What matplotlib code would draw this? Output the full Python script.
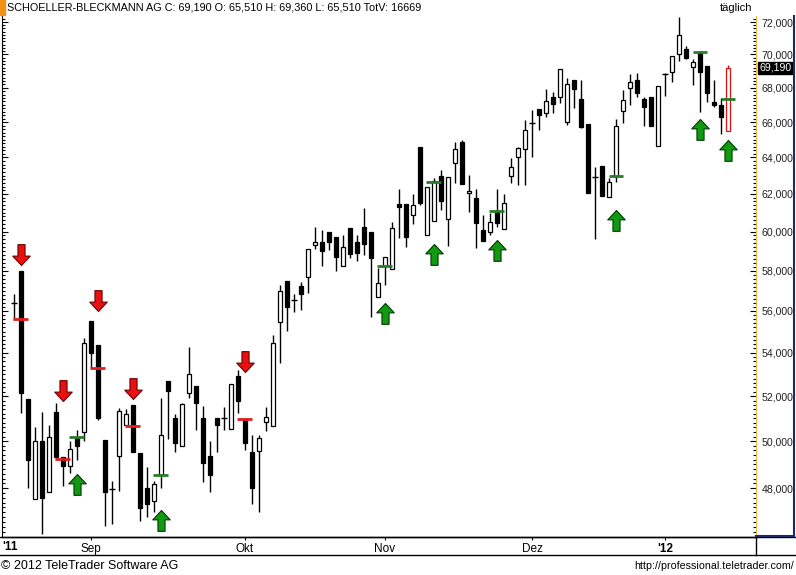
import numpy as np
import matplotlib.pyplot as plt
from matplotlib.path import Path
from matplotlib.lines import Line2D
from matplotlib.patches import Rectangle
from matplotlib.ticker import FixedLocator, NullFormatter

plt.rcParams['font.family'] = ['Liberation Sans', 'DejaVu Sans']

W, H = 796, 575

# daily candles, 17 Aug 2011 .. 13 Jan 2012 (price in EUR)
opens = [56.37, 57.97, 51.89, 47.53, 50.00, 47.82, 51.28, 49.32, 48.95, 50.17,
         50.41, 55.50, 54.36, 50.07, 47.98, 49.38, 50.69, 51.59, 49.48, 48.00,
         47.46, 48.55, 52.67, 51.00, 49.81, 52.15, 52.48, 51.00, 49.35, 51.00,
         51.00, 50.51, 52.91, 50.98, 49.52, 49.57, 50.82, 50.67, 55.47, 57.47,
         56.53, 57.22, 57.69, 59.28, 59.45, 59.99, 59.71, 58.24, 60.17, 59.45,
         60.22, 59.96, 56.69, 58.23, 58.07, 61.45, 61.45, 60.85, 64.58, 59.80,
         60.57, 62.97, 60.64, 63.67, 64.86, 62.03, 61.76, 60.08, 59.99, 61.08,
         60.16, 62.99, 64.00, 64.45, 65.96, 66.73, 66.50, 67.43, 67.47, 65.98,
         68.46, 67.32, 65.88, 62.93, 63.53, 61.81, 62.99, 66.65, 67.96, 68.46,
         67.33, 67.43, 64.65, 68.81, 68.92, 70.00, 70.31, 69.22, 70.16, 69.30,
         67.14, 66.98, 65.51]
highs = [56.82, 57.97, 51.89, 50.60, 51.29, 50.73, 51.69, 49.32, 50.00, 50.48,
         54.70, 55.50, 54.36, 50.07, 48.29, 51.47, 51.44, 51.59, 49.48, 48.88,
         48.30, 51.91, 52.67, 51.20, 51.68, 54.26, 52.48, 51.55, 50.00, 51.00,
         51.49, 52.53, 53.19, 50.98, 50.26, 50.26, 51.51, 54.83, 57.27, 57.47,
         56.81, 57.43, 59.08, 60.25, 60.11, 59.99, 59.71, 59.80, 60.17, 59.80,
         61.22, 59.96, 58.11, 58.70, 60.51, 62.26, 61.45, 61.99, 64.58, 62.35,
         62.86, 63.30, 62.90, 64.84, 64.97, 63.01, 62.25, 60.87, 60.97, 62.25,
         61.97, 63.95, 64.60, 66.11, 66.69, 66.73, 67.90, 67.74, 69.12, 68.57,
         68.46, 68.46, 65.88, 63.45, 63.53, 62.84, 66.17, 67.86, 68.81, 68.89,
         67.45, 67.43, 68.13, 68.86, 69.92, 72.33, 70.51, 69.72, 70.16, 69.30,
         68.46, 67.38, 69.36]
lows = [55.58, 51.25, 48.02, 47.53, 46.11, 47.82, 49.20, 48.09, 48.64, 49.18,
        50.01, 53.28, 50.95, 46.45, 46.52, 47.88, 50.69, 49.54, 46.64, 46.79,
        47.02, 48.01, 50.09, 49.54, 49.81, 51.92, 50.48, 48.26, 47.84, 49.54,
        50.48, 50.51, 51.22, 49.61, 47.36, 47.02, 50.45, 50.67, 53.54, 55.04,
        55.95, 56.04, 56.89, 59.08, 58.23, 59.03, 57.99, 58.24, 58.63, 58.49,
        58.77, 55.71, 56.69, 57.27, 58.07, 59.65, 59.18, 60.39, 61.40, 59.80,
        60.57, 61.13, 59.25, 62.57, 62.53, 61.04, 59.17, 59.52, 59.82, 60.22,
        60.16, 62.57, 62.48, 62.48, 64.00, 65.54, 66.30, 66.50, 67.08, 65.83,
        66.79, 65.64, 62.06, 59.59, 61.88, 61.81, 62.66, 65.96, 66.98, 67.47,
        65.79, 65.79, 64.65, 67.53, 68.32, 69.62, 69.70, 68.16, 66.59, 67.18,
        66.88, 65.29, 65.51]
closes = [56.37, 52.15, 49.18, 50.01, 47.59, 50.19, 49.32, 48.94, 49.68, 49.81,
          54.48, 53.99, 51.00, 47.84, 47.98, 51.35, 51.19, 49.54, 47.16, 47.32,
          48.18, 50.25, 52.24, 49.94, 51.64, 53.03, 51.67, 49.08, 48.55, 50.70,
          51.00, 52.53, 51.78, 49.94, 48.01, 50.12, 51.07, 54.48, 56.97, 56.20,
          56.53, 56.82, 59.08, 59.45, 59.01, 59.47, 58.70, 59.18, 58.84, 58.87,
          59.37, 58.62, 57.36, 58.70, 60.17, 61.28, 59.73, 61.38, 61.49, 62.35,
          62.71, 61.63, 62.90, 64.47, 62.53, 62.15, 60.46, 59.52, 60.48, 60.46,
          61.49, 63.45, 64.51, 65.54, 65.96, 66.38, 67.22, 67.02, 69.12, 68.22,
          67.90, 65.73, 62.06, 62.93, 61.88, 62.62, 65.77, 67.28, 68.34, 67.70,
          66.88, 65.79, 68.13, 68.81, 69.92, 71.19, 69.80, 69.54, 68.95, 67.70,
          66.98, 66.27, 69.19]

month_pos = [11, 33, 53, 74, 93]
month_labels = ['Sep', 'Okt', 'Nov', 'Dez', "'12"]

# sell signals (red) and buy signals (green)
sell_idx = [1, 7, 12, 17, 33]
sell_level = [55.59, 49.24, 53.28, 50.67, 50.98]
sell_arrow = [58.28, 51.78, 56.00, 51.89, 53.11]
buy_idx = [9, 21, 53, 60, 69, 86, 98, 102]
buy_level = [50.17, 48.55, 58.23, 62.65, 61.09, 62.99, 70.16, 67.35]
buy_arrow = [48.61, 47.11, 56.37, 59.35, 59.56, 61.13, 66.17, 64.97]

price_ticks = [48, 50, 52, 54, 56, 58, 60, 62, 64, 66, 68, 70, 72]
last_price = 69.19

fig = plt.figure(figsize=(W / 100, H / 100), dpi=100)


def fx(x):
    return x / W


def fy(y):
    return 1 - y / H


ax = fig.add_axes([fx(2), fy(537), (756 - 2) / W, (537 - 16) / H])
ax.set_yscale('log')

o = np.array(opens)
h = np.array(highs)
l = np.array(lows)
c = np.array(closes)
x = np.arange(len(o))
n = len(o)

# wicks
wick_col = ['black'] * (n - 1) + ['#e01010']
ax.vlines(x, l, h, colors=wick_col, lw=1, zorder=2)

# bodies
up = c >= o
face = np.where(up, 'white', 'black')
edge = ['black'] * (n - 1) + ['#e01010']
bottom = np.minimum(o, c)
height = np.abs(c - o)
body = height > 0.02
ax.bar(x[body], height[body], bottom=bottom[body], width=0.66,
       color=face[body], edgecolor=np.array(edge)[body], lw=0.9, zorder=3)
doji = ~body
ax.hlines(o[doji], x[doji] - 0.4, x[doji] + 0.4, colors='black', lw=1, zorder=3)

# signal levels
sell_idx_a = np.array(sell_idx)
buy_idx_a = np.array(buy_idx)
ax.hlines(sell_level, sell_idx_a - 1.07, sell_idx_a + 1.07, colors='#e02020', lw=2, zorder=4)
ax.hlines(buy_level, buy_idx_a - 1.07, buy_idx_a + 1.07, colors='#2a7a2a', lw=2, zorder=4)

up_arrow = Path([(0, 0), (0.42, -0.45), (0.17, -0.45), (0.17, -1), (-0.17, -1),
                 (-0.17, -0.45), (-0.42, -0.45), (0, 0)], closed=True)
down_arrow = Path([(0, 0), (0.42, 0.45), (0.17, 0.45), (0.17, 1), (-0.17, 1),
                   (-0.17, 0.45), (-0.42, 0.45), (0, 0)], closed=True)
ax.plot(sell_idx, sell_arrow, ls='none', marker=down_arrow, markersize=30,
        mfc='#e81010', mec='#6a0000', mew=0.8, zorder=5)
ax.plot(buy_idx, buy_arrow, ls='none', marker=up_arrow, markersize=30,
        mfc='#119a11', mec='#003a00', mew=0.8, zorder=5)

ax.set_xlim(-1.71, 106.0)
ax.set_ylim(46.0, 72.38)

# y axis: labels on the right
ax.yaxis.set_major_locator(FixedLocator(price_ticks))
ax.yaxis.set_minor_locator(FixedLocator(np.arange(46.2, 72.4, 0.2)))
ax.yaxis.set_minor_formatter(NullFormatter())
ax.set_yticklabels([f'{v:.3f}'.replace('.', ',') for v in price_ticks])
ax.tick_params(axis='y', which='both', direction='in', left=True, right=True,
               labelleft=False, labelright=True, width=0.8)
ax.tick_params(axis='y', which='major', length=4, pad=4, labelsize=7.6,
               labelcolor='#222222')
ax.tick_params(axis='y', which='minor', length=2)

# x axis: month ticks
ax.set_xticks(month_pos)
ax.set_xticklabels(month_labels)
ax.tick_params(axis='x', direction='out', length=2.5, width=0.8, pad=2, labelsize=8.5)
ax.get_xticklabels()[-1].set_fontweight('bold')

ax.spines['top'].set_visible(False)
ax.spines['right'].set_color('#e8b84a')
ax.spines['right'].set_linestyle((0, (1, 1)))
ax.spines['left'].set_linewidth(0.8)
ax.spines['bottom'].set_linewidth(1)

# last price marker on the right scale
ax.text(1.004, last_price, f'{last_price:.3f}'.replace('.', ','),
        transform=ax.get_yaxis_transform(), ha='left', va='center',
        fontsize=7.6, color='white',
        bbox=dict(boxstyle='square,pad=0.12', fc='black', ec='black'))


# frame lines around the chart
def fline(x0, y0, x1, y1, color='black', lw=1):
    fig.add_artist(Line2D([fx(x0), fx(x1)], [fy(y0), fy(y1)], color=color, lw=lw))


fline(0, 537, W, 537)
fline(0, 555, W, 555)
fline(756, 537, 756, 555)
fline(793.5, 16, 793.5, 536, color='#1c2a6a', lw=1.5)
fline(756, 535.5, 794, 535.5, color='#1c2a6a', lw=1.5)

# header
fig.add_artist(Rectangle((fx(0), fy(15)), fx(5), 15 / H, color='#f39017',
                         transform=fig.transFigure))
fig.text(fx(7), fy(8), 'SCHOELLER-BLECKMANN AG C: 69,190 O: 65,510 H: 69,360 L: 65,510 TotV: 16669',
         fontsize=7.8, va='center', ha='left')
fig.text(fx(752), fy(8), 'täglich', fontsize=8, va='center', ha='right')
fig.text(fx(2), fy(547), "'11", fontsize=8.5, fontweight='bold', va='center', ha='left')

# footer
fig.text(fx(1), fy(566), '© 2012 TeleTrader Software AG', fontsize=9, va='center', ha='left')
fig.text(fx(794), fy(566), 'http://professional.teletrader.com/', fontsize=7.7,
         va='center', ha='right')

fig.savefig('out.png', dpi=100)
